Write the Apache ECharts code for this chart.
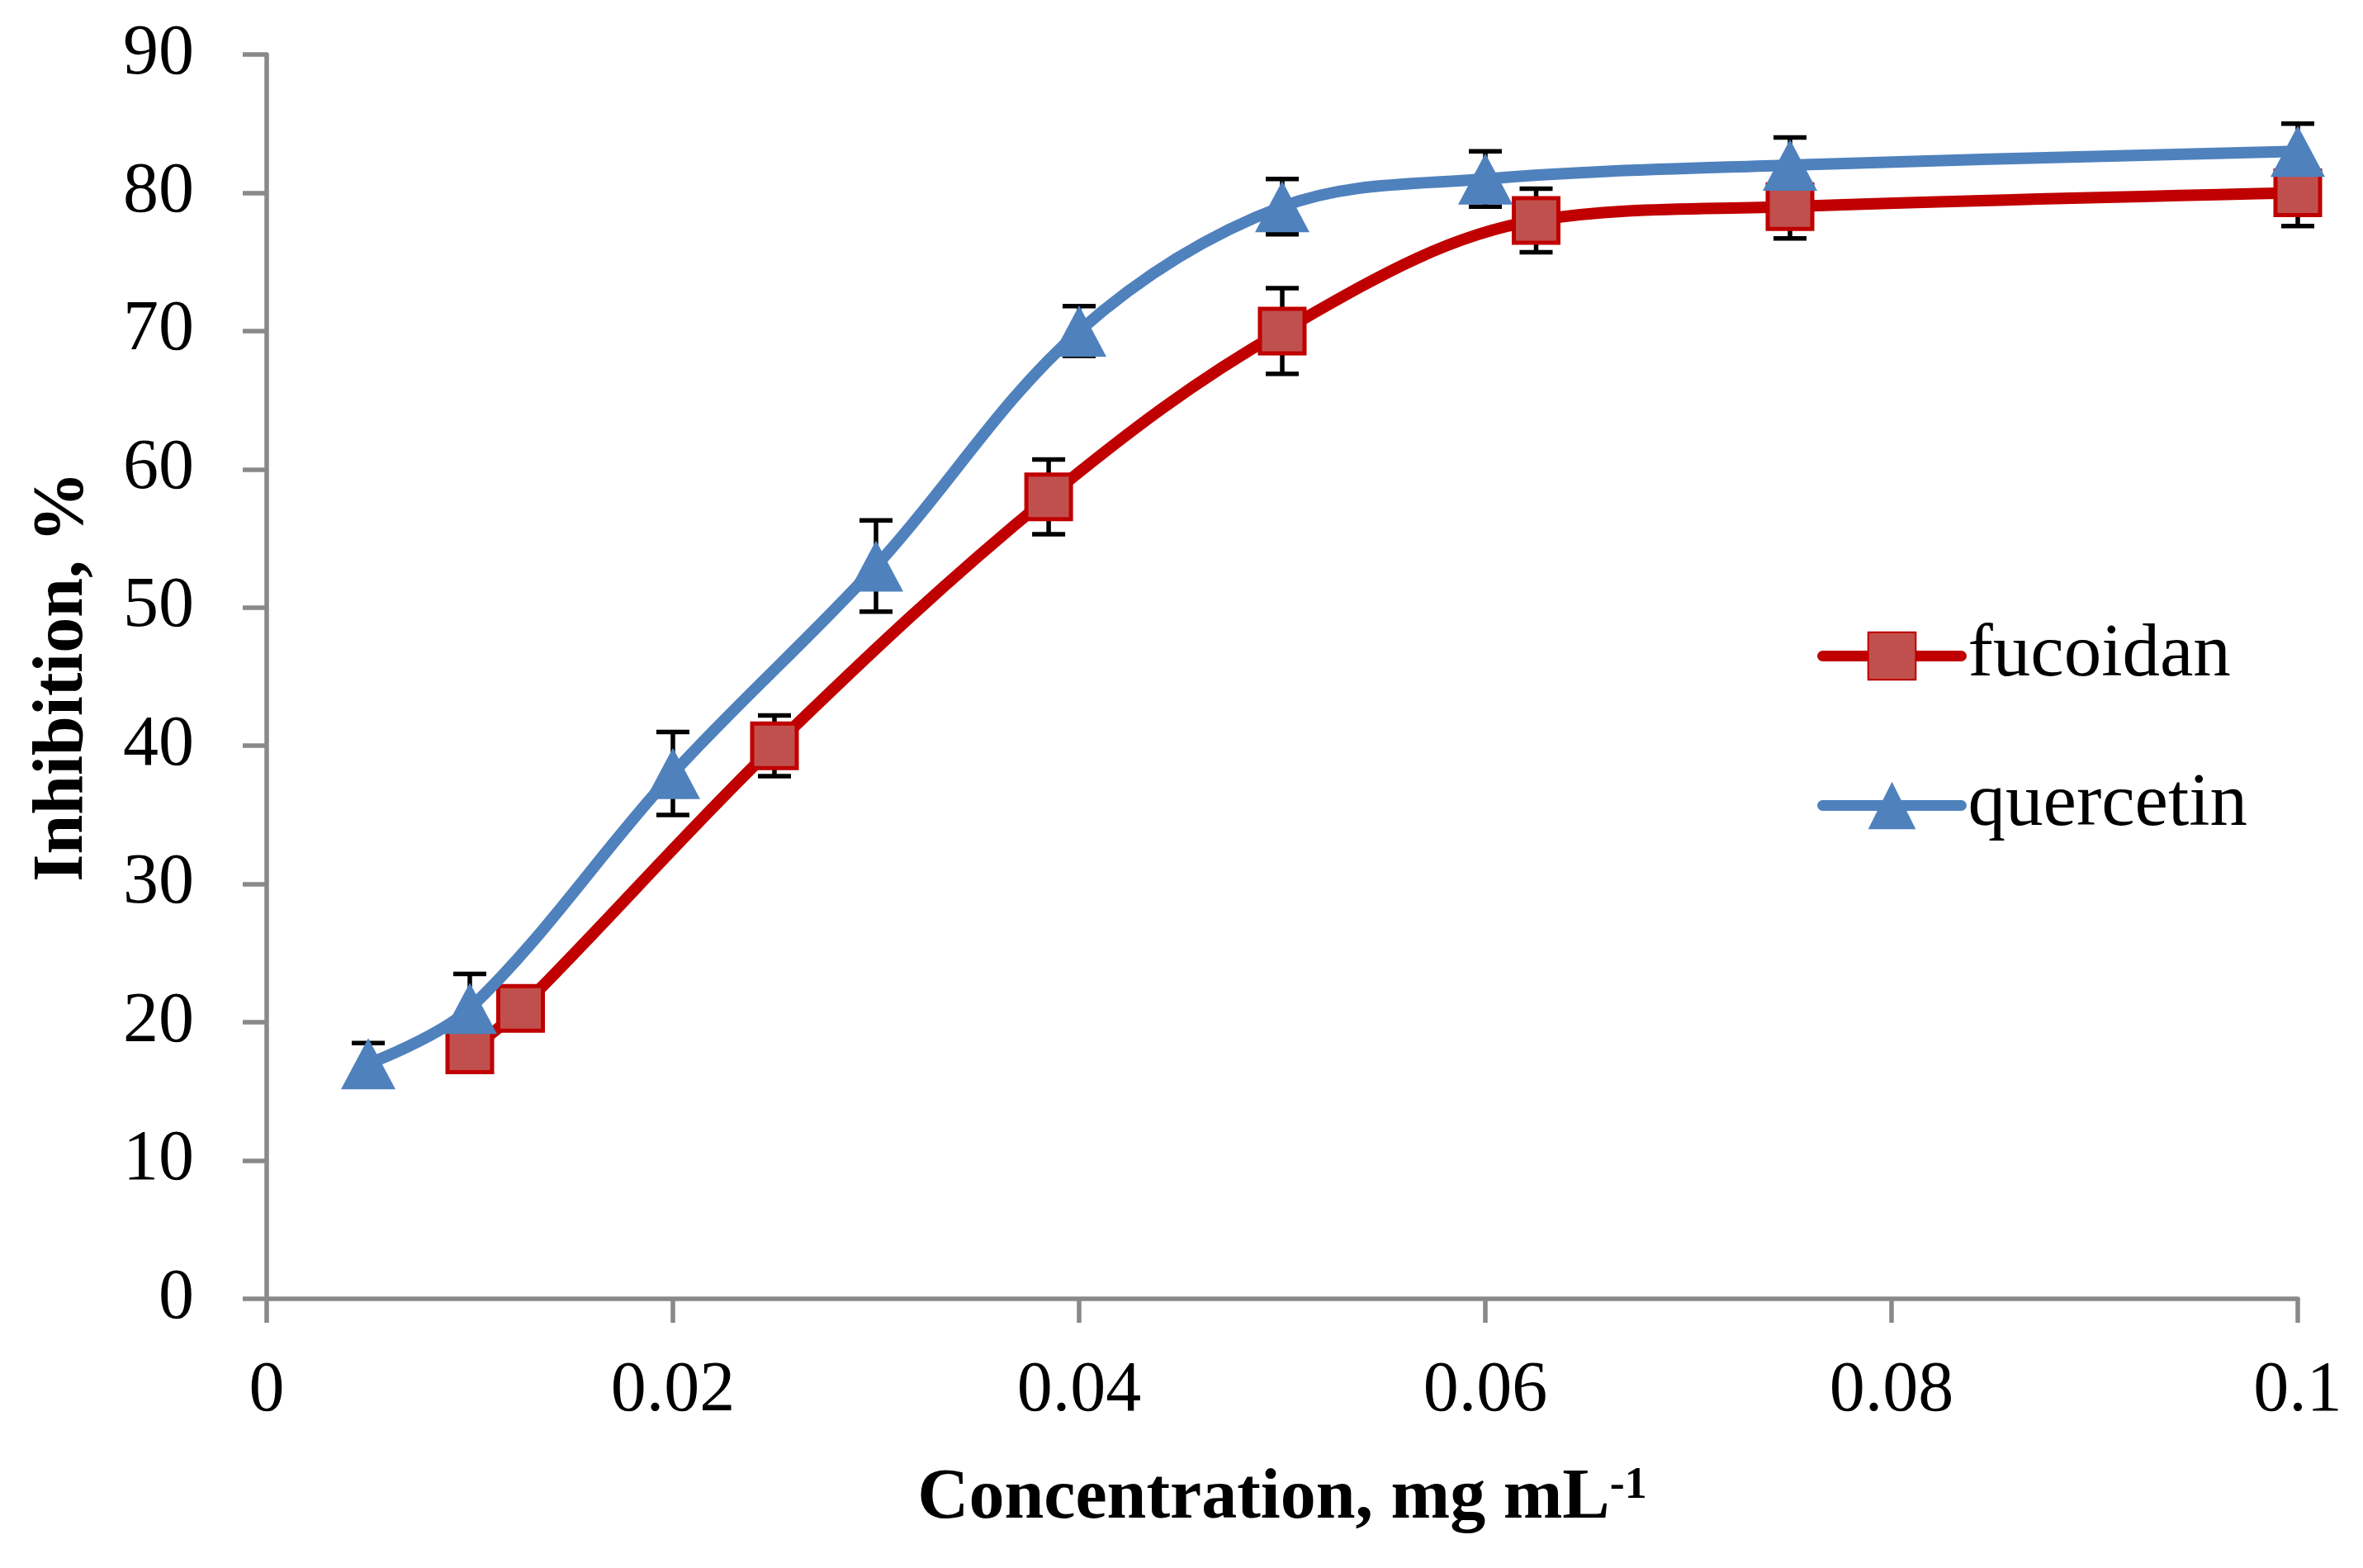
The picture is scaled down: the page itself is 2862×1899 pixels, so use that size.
<!DOCTYPE html>
<html><head><meta charset="utf-8">
<script src="https://cdn.jsdelivr.net/npm/echarts@6/dist/echarts.min.js"></script>
<style>html,body{margin:0;padding:0;background:#fff}#c{width:2862px;height:1899px}</style>
</head><body><div id="c"></div>
<script>
// ---- data ----
const seriesNames = ['fucoidan', 'quercetin'];
const fucoidanX = [0.01, 0.0125, 0.025, 0.0385, 0.05, 0.0625, 0.075, 0.1];
const fucoidanY = [18, 21, 40, 58, 70, 78, 79, 80];
const fucoidanErr = [1.2, 1.2, 2.2, 2.7, 3.1, 2.3, 2.3, 2.4];
const quercetinX = [0.005, 0.01, 0.02, 0.03, 0.04, 0.05, 0.06, 0.075, 0.1];
const quercetinY = [17, 21, 38, 53, 70, 79, 81, 82, 83];
const quercetinErr = [1.5, 2.5, 3, 3.3, 1.8, 2, 2, 2, 2];
const xTickValues = [0, 0.02, 0.04, 0.06, 0.08, 0.1];
const xTickLabels = ['0', '0.02', '0.04', '0.06', '0.08', '0.1'];
const yTickLabels = ['0', '10', '20', '30', '40', '50', '60', '70', '80', '90'];
const xTitle = 'Concentration, mg mL';
const xTitleSup = '-1';
const yTitle = 'Inhibition, %';

// ---- chart ----
const FONT = '"Liberation Serif", "Times New Roman", serif';
const AXIS_GREY = '#898989';
const RED_LINE = '#C00000', RED_FILL = '#C0504D', BLUE = '#4F81BD';

const pairs = (xs, ys) => xs.map((x, i) => [x, ys[i]]);
const errData = (xs, ys, es) => xs.map((x, i) => [x, ys[i] - es[i], ys[i] + es[i]]);

function errorRender(params, api) {
  const x = api.value(0), lo = api.value(1), hi = api.value(2);
  const pLo = api.coord([x, lo]), pHi = api.coord([x, hi]);
  const hw = 20;
  const style = { stroke: '#000', lineWidth: 5.5 };
  return {
    type: 'group', children: [
      { type: 'line', shape: { x1: pLo[0], y1: pLo[1], x2: pHi[0], y2: pHi[1] }, style },
      { type: 'line', shape: { x1: pLo[0] - hw, y1: pLo[1], x2: pLo[0] + hw, y2: pLo[1] }, style },
      { type: 'line', shape: { x1: pHi[0] - hw, y1: pHi[1], x2: pHi[0] + hw, y2: pHi[1] }, style }
    ]
  };
}

const chart = echarts.init(document.getElementById('c'), null, { renderer: 'canvas' });
chart.setOption({
  animation: false,
  backgroundColor: '#fff',
  grid: { left: 323, right: 79, top: 66, bottom: 326, containLabel: false },
  legend: {
    data: seriesNames,
    orient: 'vertical',
    left: 2196,
    top: 744,
    itemWidth: 168,
    itemHeight: 72,
    itemGap: 90,
    lineStyle: { width: 13, cap: 'round' },
    textStyle: { fontFamily: FONT, fontSize: 91, color: '#000', lineHeight: 90, padding: [0, 0, 0, 3] }
  },
  xAxis: {
    type: 'value', min: 0, max: 0.1, interval: 0.02,
    name: xTitle + '{sup|' + xTitleSup + '}',
    nameLocation: 'middle', nameGap: 200,
    nameTextStyle: {
      fontFamily: FONT, fontSize: 86, fontWeight: 'bold', color: '#000',
      rich: { sup: { fontFamily: FONT, fontSize: 54, fontWeight: 'bold', color: '#000', verticalAlign: 'top' } }
    },
    axisLine: { show: true, onZero: false, lineStyle: { color: AXIS_GREY, width: 5.5 } },
    axisTick: { show: true, inside: false, length: 29, lineStyle: { color: AXIS_GREY, width: 5.5 } },
    axisLabel: {
      margin: 69, fontFamily: FONT, fontSize: 86, color: '#000',
      formatter: v => { const i = xTickValues.findIndex(t => Math.abs(t - v) < 1e-9); return i >= 0 ? xTickLabels[i] : ''; }
    },
    splitLine: { show: false }
  },
  yAxis: {
    type: 'value', min: 0, max: 90, interval: 10,
    name: yTitle, nameLocation: 'middle', nameGap: 203,
    nameTextStyle: { fontFamily: FONT, fontSize: 86, fontWeight: 'bold', color: '#000' },
    axisLine: { show: true, lineStyle: { color: AXIS_GREY, width: 5.5 } },
    axisTick: { show: true, inside: false, length: 29, lineStyle: { color: AXIS_GREY, width: 5.5 } },
    axisLabel: {
      margin: 88, fontFamily: FONT, fontSize: 86, color: '#000',
      formatter: v => yTickLabels[Math.round(v / 10)]
    },
    splitLine: { show: false }
  },
  series: [
    {
      name: 'fucoidan-err', type: 'custom', z: 1, silent: true,
      renderItem: errorRender, encode: { x: 0, y: [1, 2] },
      data: errData(fucoidanX, fucoidanY, fucoidanErr)
    },
    {
      name: 'quercetin-err', type: 'custom', z: 1, silent: true,
      renderItem: errorRender, encode: { x: 0, y: [1, 2] },
      data: errData(quercetinX, quercetinY, quercetinErr)
    },
    {
      name: 'fucoidan', type: 'line', z: 3, smooth: 0.35,
      data: pairs(fucoidanX, fucoidanY),
      symbol: 'rect', symbolSize: 54, showAllSymbol: true,
      lineStyle: { color: RED_LINE, width: 14, cap: 'round', join: 'round' },
      itemStyle: { color: RED_FILL, borderColor: RED_LINE, borderWidth: 5 }
    },
    {
      name: 'quercetin', type: 'line', z: 4, smooth: 0.35,
      data: pairs(quercetinX, quercetinY),
      symbol: 'triangle', symbolSize: [66, 62], showAllSymbol: true,
      lineStyle: { color: BLUE, width: 14, cap: 'round', join: 'round' },
      itemStyle: { color: BLUE }
    }
  ]
});
</script></body></html>
